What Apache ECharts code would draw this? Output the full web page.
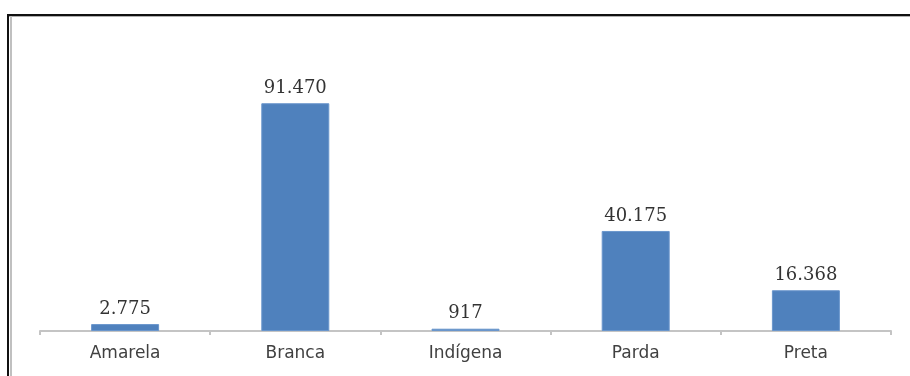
<!DOCTYPE html>
<html>
<head>
<meta charset="utf-8">
<script src="https://cdn.jsdelivr.net/npm/echarts@6/dist/echarts.min.js"></script>
<style>
html,body{margin:0;padding:0;background:#fff;}
#chart{width:910px;height:376px;}
</style>
</head>
<body>
<div id="chart"></div>
<script>
var categories = ['Amarela', 'Branca', 'Indígena', 'Parda', 'Preta'];
var values = [2775, 91470, 917, 40175, 16368];
var valueLabels = ['2.775', '91.470', '917', '40.175', '16.368'];

var chart = echarts.init(document.getElementById('chart'), null, {renderer: 'canvas'});
chart.setOption({
  backgroundColor: '#ffffff',
  animation: false,
  grid: {left: 40, right: 19, top: 82, bottom: 45},
  xAxis: {
    type: 'category',
    data: categories,
    axisLine: {lineStyle: {color: '#c4c4c4', width: 2}},
    axisTick: {show: true, length: 4, lineStyle: {color: '#c4c4c4', width: 2}},
    axisLabel: {
      fontFamily: 'DejaVu Sans',
      fontSize: 17,
      color: '#404040',
      margin: 14
    }
  },
  yAxis: {
    type: 'value',
    min: 0,
    max: 100000,
    show: false,
    splitLine: {show: false}
  },
  series: [{
    type: 'bar',
    data: values,
    barWidth: 68,
    itemStyle: {color: '#4f81bd', borderColor: '#6a96cc', borderWidth: 1},
    label: {
      show: true,
      position: 'top',
      distance: 6,
      fontFamily: 'DejaVu Serif',
      fontSize: 18,
      color: '#333333',
      formatter: function (p) { return valueLabels[p.dataIndex]; }
    }
  }],
  graphic: [
    {type: 'rect', shape: {x: 7, y: 14, width: 903, height: 2}, style: {fill: '#111111'}, silent: true},
    {type: 'rect', shape: {x: 9, y: 16, width: 901, height: 1}, style: {fill: '#b0b0b0'}, silent: true},
    {type: 'rect', shape: {x: 7, y: 14, width: 2, height: 362}, style: {fill: '#111111'}, silent: true},
    {type: 'rect', shape: {x: 10, y: 16, width: 2, height: 360}, style: {fill: '#c0c0c0'}, silent: true}
  ]
});
</script>
</body>
</html>
